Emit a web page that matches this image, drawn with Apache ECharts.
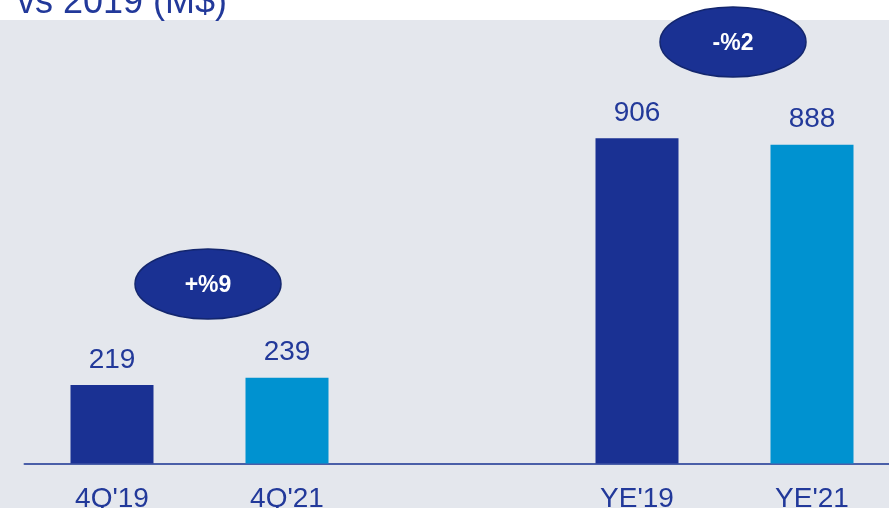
<!DOCTYPE html>
<html>
<head>
<meta charset="utf-8">
<style>
  html, body { margin: 0; padding: 0; background: #ffffff; }
  #chart { width: 889px; height: 508px; }
</style>
<script src="https://cdn.jsdelivr.net/npm/echarts@6/dist/echarts.min.js"></script>
</head>
<body>
<div id="chart"></div>
<script>
// Periods on the horizontal axis; the blank slot separates quarter and full-year pairs
const categories = ["4Q'19", "4Q'21", "", "YE'19", "YE'21"];
// Amounts in M$
const values = [219, 239, null, 906, 888];
// Change badges: quarter comparison, full-year comparison
const changeLabels = ['+%9', '-%2'];
const titleText = 'vs 2019 (M$)';

const DARK = '#1a3193';
const LIGHT = '#0092d0';
const TEXT = '#22399a';
const barColors = [DARK, LIGHT, DARK, DARK, LIGHT];

const chart = echarts.init(document.getElementById('chart'));

const font = "'Liberation Sans', Arial, sans-serif";

function badge(cx, cy, text) {
  return [
    {
      type: 'ellipse',
      shape: { cx: cx, cy: cy, rx: 73, ry: 35 },
      style: { fill: DARK, stroke: '#13266e', lineWidth: 1.5 },
      z: 20
    },
    {
      type: 'text',
      x: cx, y: cy + 2,
      style: {
        text: text, fill: '#ffffff', fontSize: 23, fontWeight: 'bold',
        fontFamily: font, align: 'center', verticalAlign: 'middle'
      },
      z: 21
    }
  ];
}

chart.setOption({
  backgroundColor: '#ffffff',
  animation: false,
  grid: {
    left: 24.5, width: 875, top: 104.5, height: 359,
    containLabel: false, outerBoundsMode: 'none'
  },
  xAxis: {
    type: 'category',
    data: categories,
    axisLine: { lineStyle: { color: '#4a5fa8', width: 2 } },
    axisTick: { show: false },
    axisLabel: { color: TEXT, fontSize: 28, fontFamily: font, margin: 22 },
    splitLine: { show: false }
  },
  yAxis: { type: 'value', min: 0, max: 1000, show: false },
  series: [{
    type: 'bar',
    barWidth: 83,
    data: values.map((v, i) => ({ value: v, itemStyle: { color: barColors[i] } })),
    label: {
      show: true, position: 'top', distance: 11,
      color: TEXT, fontSize: 28, fontFamily: font
    }
  }],
  graphic: [
    {
      type: 'rect',
      shape: { x: 0, y: 20, width: 889, height: 488 },
      style: { fill: '#e4e7ed' },
      z: -10, silent: true
    },
    {
      type: 'text',
      x: 17, y: 21,
      style: {
        text: titleText, fill: TEXT, fontSize: 36, fontFamily: font,
        align: 'left', verticalAlign: 'bottom'
      },
      z: 5
    }
  ].concat(badge(208, 284, changeLabels[0]), badge(733, 42, changeLabels[1]))
});
</script>
</body>
</html>
